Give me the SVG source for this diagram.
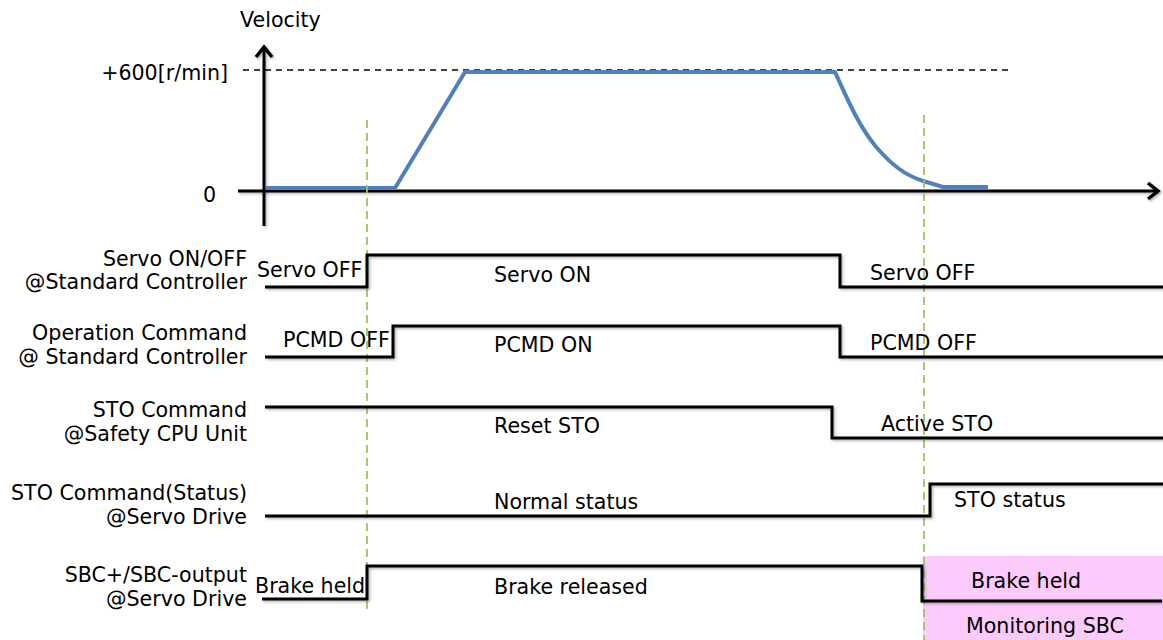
<svg xmlns="http://www.w3.org/2000/svg" width="1163" height="640" viewBox="0 0 1163 640">
<style>
text{font-family:"DejaVu Sans","Liberation Sans",sans-serif;font-size:20.6px;fill:#000}
.r{text-anchor:end}
.sig{fill:none;stroke:#000;stroke-width:3;stroke-linejoin:miter;filter:url(#sh)}
.ax{fill:none;stroke:#000;stroke-width:3;filter:url(#sh)}
.hd{fill:none;stroke:#000;stroke-width:3.5;stroke-linejoin:miter;filter:url(#sh)}
.grn{stroke:#9BC75A;stroke-width:1.8;stroke-dasharray:8 5;fill:none}
</style>
<defs>
<filter id="sh" filterUnits="userSpaceOnUse" x="0" y="0" width="1163" height="640">
<feDropShadow dx="1.5" dy="1.5" stdDeviation="1" flood-color="#000" flood-opacity="0.3"/>
</filter>
</defs>
<rect x="923" y="556" width="240" height="84" fill="#FCCBFC"/>
<g id="axes">
<line class="ax" x1="264" y1="226" x2="264" y2="47"/>
<polyline class="hd" points="256,57 264,47 272,57"/>
<line class="ax" x1="238" y1="191" x2="1157" y2="191"/>
<polyline class="hd" points="1148,183 1158,191 1148,199"/>
<line x1="243" y1="70" x2="1008" y2="70" stroke="#000" stroke-width="1.5" stroke-dasharray="6 5"/>
<text x="240" y="27">Velocity</text>
<text class="r" x="228" y="80">+600[r/min]</text>
<text x="203" y="202">0</text>
</g>
<g id="velocity">
<path d="M266,188 L395,188 L465,72 L835,72 C850,105 860,128 877,148 C893,166 905,175 923,181 L943,187 L988,187" fill="none" stroke="#4F81BD" stroke-width="4" stroke-linejoin="round"/>
</g>
<g id="markers">
<line class="grn" x1="367" y1="120" x2="367" y2="612"/>
<line class="grn" x1="924" y1="115" x2="924" y2="640"/>
</g>
<g id="servo">
<text class="r" x="247" y="266">Servo ON/OFF</text>
<text class="r" x="247" y="289">@Standard Controller</text>
<polyline class="sig" points="265,287 367,287 367,255 840,255 840,287 1163,287"/>
<text x="257" y="277">Servo OFF</text>
<text x="494" y="282">Servo ON</text>
<text x="870" y="280">Servo OFF</text>
</g>
<g id="pcmd">
<text class="r" x="247" y="340">Operation Command</text>
<text class="r" x="247" y="364">@ Standard Controller</text>
<polyline class="sig" points="265,357 393,357 393,326 840,326 840,357 1163,357"/>
<text x="283" y="347">PCMD OFF</text>
<text x="494" y="352">PCMD ON</text>
<text x="870" y="350">PCMD OFF</text>
</g>
<g id="sto-cmd">
<text class="r" x="247" y="417">STO Command</text>
<text class="r" x="247" y="441">@Safety CPU Unit</text>
<polyline class="sig" points="265,407 832,407 832,438 1163,438"/>
<text x="494" y="433">Reset STO</text>
<text x="881" y="431">Active STO</text>
</g>
<g id="sto-status">
<text class="r" x="247" y="500">STO Command(Status)</text>
<text class="r" x="247" y="524">@Servo Drive</text>
<polyline class="sig" points="265,516 930,516 930,484 1163,484"/>
<text x="494" y="509">Normal status</text>
<text x="954" y="507">STO status</text>
</g>
<g id="sbc">
<text class="r" x="247" y="582">SBC+/SBC-output</text>
<text class="r" x="247" y="606">@Servo Drive</text>
<polyline class="sig" points="262,599 367,599 367,566 922,566 922,601 1162,601"/>
<text x="255" y="593">Brake held</text>
<text x="494" y="594">Brake released</text>
<text x="971" y="588">Brake held</text>
<text x="966" y="633">Monitoring SBC</text>
</g>
</svg>
